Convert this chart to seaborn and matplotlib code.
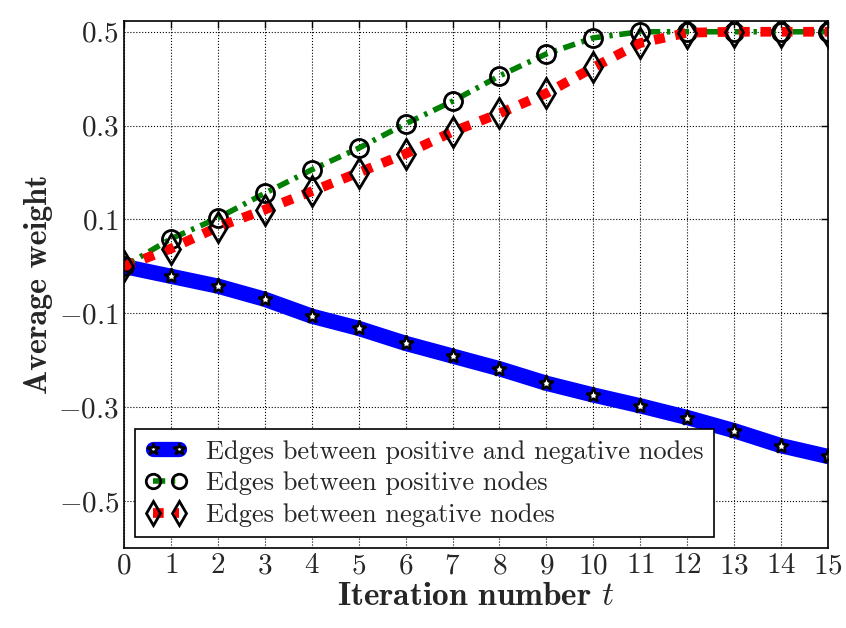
import numpy as np
import pandas as pd
import seaborn as sns
import matplotlib.pyplot as plt

# data
iterations = list(range(16))
w_pos_neg = [0.0, -0.021, -0.042, -0.070, -0.106, -0.132, -0.164, -0.191,
             -0.218, -0.249, -0.274, -0.297, -0.322, -0.350, -0.382, -0.405]
w_pos = [0.0, 0.059, 0.103, 0.156, 0.206, 0.252, 0.304, 0.352,
         0.406, 0.453, 0.487, 0.500, 0.500, 0.500, 0.500, 0.500]
w_neg = [0.0, 0.038, 0.084, 0.121, 0.160, 0.200, 0.240, 0.287,
         0.326, 0.369, 0.424, 0.476, 0.498, 0.500, 0.500, 0.500]
labels = ['Edges between positive and negative nodes',
          'Edges between positive nodes',
          'Edges between negative nodes']
yticks = [0.5, 0.3, 0.1, -0.1, -0.3, -0.5]

df = pd.DataFrame({'t': iterations, 'pn': w_pos_neg, 'p': w_pos, 'n': w_neg})

sns.set_style('white')
plt.rcParams['font.family'] = ['cmr10', 'DejaVu Serif']
plt.rcParams['mathtext.fontset'] = 'cm'
plt.rcParams['axes.unicode_minus'] = False

fig = plt.figure(figsize=(8.46, 6.28), dpi=100)
ax = fig.add_axes([0.1466, 0.1274, 0.8321, 0.8392])

sns.lineplot(data=df, x='t', y='pn', ax=ax, color='blue', linewidth=11,
             marker='*', markersize=11, markerfacecolor='white',
             markeredgecolor='black', markeredgewidth=1.8, label=labels[0])
sns.lineplot(data=df, x='t', y='p', ax=ax, color='green', linewidth=4,
             linestyle=(0, (2.2, 1.2, 0.6, 1.2)), marker='o', markersize=13,
             markerfacecolor='none', markeredgecolor='black',
             markeredgewidth=2, label=labels[1])
sns.lineplot(data=df, x='t', y='n', ax=ax, color='red', linewidth=7,
             linestyle=(0, (1.1, 1.1)), marker='d', markersize=15,
             markerfacecolor='none', markeredgecolor='black',
             markeredgewidth=2, label=labels[2])

ax.set_xlim(0, 15)
ax.set_ylim(-0.6, 0.523)
ax.set_xticks(iterations)
ax.set_xticklabels([f'${v}$' for v in iterations])
ax.set_yticks(yticks)
ax.set_yticklabels([f'${v:.1f}$' for v in yticks])
ax.tick_params(labelsize=21, direction='in', top=True, right=True,
               length=5, width=1, color='black')
ax.grid(True, linestyle=':', color='black', linewidth=0.8)
for s in ax.spines.values():
    s.set_color('black')
    s.set_linewidth(1.2)

ax.set_xlabel('Iteration number $t$', fontsize=24, fontfamily='cmb10',
              labelpad=2)
ax.set_ylabel('Average weight', fontsize=23, fontfamily='cmb10')

leg = ax.legend(loc='lower left', numpoints=2, fontsize=19, fancybox=False,
                edgecolor='black', framealpha=1, handlelength=1.6,
                markerscale=0.8, borderaxespad=0.4, labelspacing=0.3,
                handletextpad=0.7)
leg.get_frame().set_linewidth(1.2)

plt.savefig('out.png', dpi=100)
